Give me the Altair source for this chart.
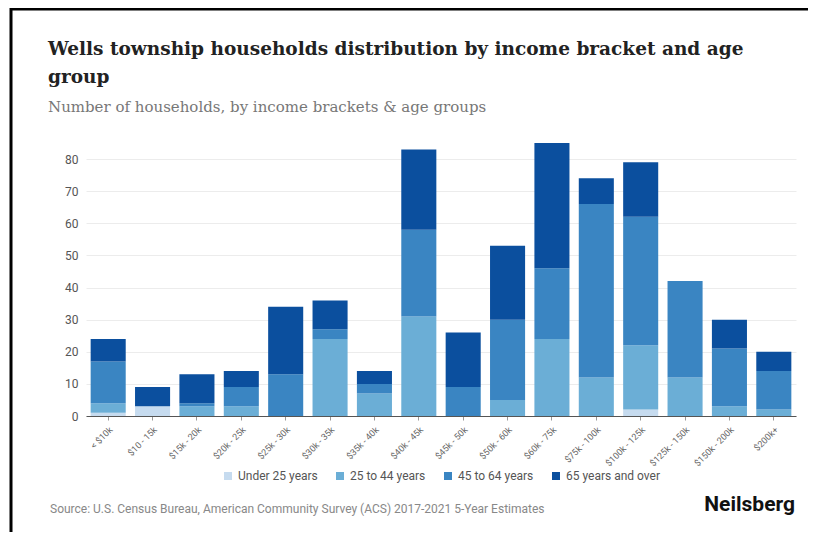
import altair as alt
import pandas as pd

brackets = ["< $10k", "$10 - 15k", "$15k - 20k", "$20k - 25k", "$25k - 30k", "$30k - 35k",
            "$35k - 40k", "$40k - 45k", "$45k - 50k", "$50k - 60k", "$60k - 75k",
            "$75k - 100k", "$100k - 125k", "$125k - 150k", "$150k - 200k", "$200k+"]
age_groups = ["Under 25 years", "25 to 44 years", "45 to 64 years", "65 years and over"]
under_25 = [1, 3, 0, 0, 0, 0, 0, 0, 0, 0, 0, 0, 2, 0, 0, 0]
age_25_44 = [3, 0, 3, 3, 0, 24, 7, 31, 0, 5, 24, 12, 20, 12, 3, 2]
age_45_64 = [13, 0, 1, 6, 13, 3, 3, 27, 9, 25, 22, 54, 40, 30, 18, 12]
age_65_up = [7, 6, 9, 5, 21, 9, 4, 25, 17, 23, 39, 8, 17, 0, 9, 6]
colors = ["#c6dbef", "#6baed6", "#3a85c2", "#0b4f9e"]
y_ticks = [0, 10, 20, 30, 40, 50, 60, 70, 80]

title_line1 = "Wells township households distribution by income bracket and age"
title_line2 = "group"
subtitle = "Number of households, by income brackets & age groups"
source = "Source: U.S. Census Bureau, American Community Survey (ACS) 2017-2021 5-Year Estimates"
brand = "Neilsberg"

rows = []
for series_idx, (grp, vals) in enumerate(zip(age_groups, [under_25, age_25_44, age_45_64, age_65_up])):
    for b, v in zip(brackets, vals):
        rows.append({"bracket": b, "group": grp, "value": v, "idx": series_idx})
df = pd.DataFrame(rows)

W, H = 710, 273

bars = alt.Chart(df).mark_bar().encode(
    x=alt.X("bracket:N", sort=brackets, title=None,
            scale=alt.Scale(paddingInner=0.21, paddingOuter=0.105),
            axis=alt.Axis(labelAngle=-45, labelFontSize=9, labelColor="#666", labelFont="Roboto",
                          domainColor="#555", tickColor="#999", tickSize=4, labelPadding=5)),
    y=alt.Y("value:Q", stack="zero", title=None,
            scale=alt.Scale(domain=[0, 85], nice=False),
            axis=alt.Axis(values=y_ticks, domain=False, ticks=False, labelFontSize=12,
                          labelColor="#555", labelFont="Roboto", labelPadding=8,
                          gridColor="#ececec")),
    color=alt.Color("group:N", sort=age_groups,
                    scale=alt.Scale(domain=age_groups, range=colors),
                    legend=alt.Legend(title=None, orient="none", direction="horizontal",
                                      legendX=136, legendY=327, symbolType="square",
                                      symbolSize=64, symbolStrokeWidth=0, labelFontSize=12,
                                      labelColor="#555", labelFont="Roboto", columnPadding=16)),
    order=alt.Order("idx:Q", sort="ascending"),
)

one = pd.DataFrame({"src": [source], "brand": [brand], "t1": [title_line1],
                    "t2": [title_line2], "sub": [subtitle]})

t1 = alt.Chart(one).mark_text(align="left", baseline="alphabetic", font="DejaVu Serif",
                              fontSize=18.5, fontWeight="bold", color="#222").encode(
    x=alt.value(-38), y=alt.value(-88), text="t1:N")
t2 = alt.Chart(one).mark_text(align="left", baseline="alphabetic", font="DejaVu Serif",
                              fontSize=18.5, fontWeight="bold", color="#222").encode(
    x=alt.value(-38), y=alt.value(-60), text="t2:N")
st = alt.Chart(one).mark_text(align="left", baseline="alphabetic", font="DejaVu Serif",
                              fontSize=15, color="#777").encode(
    x=alt.value(-38), y=alt.value(-31), text="sub:N")

src_text = alt.Chart(one).mark_text(align="left", baseline="middle", font="Roboto",
                                    fontSize=12, color="#888").encode(
    x=alt.value(-36), y=alt.value(366), text="src:N")
brand_text = alt.Chart(one).mark_text(align="right", baseline="middle", font="Roboto",
                                      fontSize=21, fontWeight="bold", color="#111").encode(
    x=alt.value(709), y=alt.value(362), text="brand:N")

left_border = alt.Chart(one).mark_rule(color="#000", strokeWidth=3).encode(
    x=alt.value(-75), x2=alt.value(-75), y=alt.value(-135), y2=alt.value(400))
top_border = alt.Chart(one).mark_rule(color="#000", strokeWidth=3).encode(
    x=alt.value(-76), x2=alt.value(740), y=alt.value(-134), y2=alt.value(-134))

chart = alt.layer(bars, t1, t2, st, src_text, brand_text, left_border, top_border).properties(
    width=W, height=H,
    background="white",
    autosize=alt.AutoSizeParams(type="none"),
    padding={"left": 78, "top": 135, "right": 12, "bottom": 116},
).configure_view(strokeWidth=0)

chart.save("out.html", embed_options={"renderer": "svg", "actions": False})
